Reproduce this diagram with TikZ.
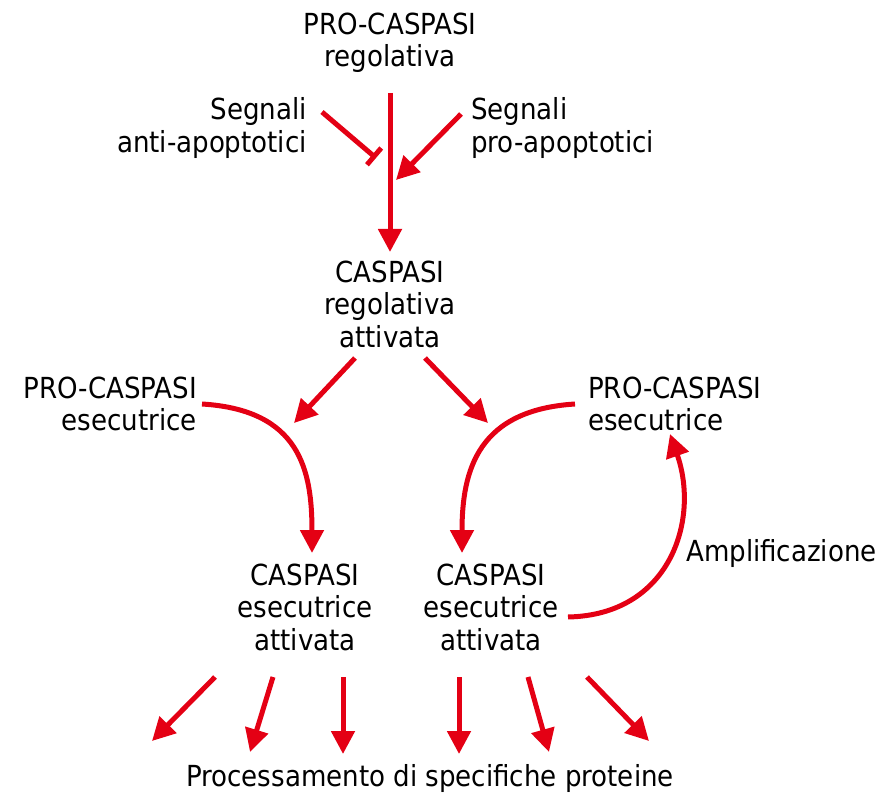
\documentclass[tikz,border=0pt]{standalone}
\usepackage{fontspec}
\setmainfont{DejaVu Sans Condensed}
\usetikzlibrary{arrows.meta}
\definecolor{arrred}{RGB}{228,0,20}
\tikzset{
  txt/.style={inner sep=0pt, font=\fontsize{29}{32.5}\selectfont, align=center, text=black},
  arr/.style={draw=arrred, line width=5pt, -{Triangle[length=23pt,width=23pt]}},
  inh/.style={draw=arrred, line width=5pt, -{Bar[width=22pt,line width=5pt]}},
  plain/.style={draw=arrred, line width=5pt}
}
\begin{document}
\begin{tikzpicture}[x=1pt,y=-1pt]
\useasboundingbox (0,0) rectangle (895,794);
% text nodes
\node[txt] (top) at (390,43) {PRO-CASPASI\\regolativa};
\node[txt,align=right,anchor=east] (anti) at (307,128) {Segnali\\anti-apoptotici};
\node[txt,align=left,anchor=west] (pro) at (471,128) {Segnali\\pro-apoptotici};
\node[txt] (creg) at (390,304) {CASPASI\\regolativa\\attivata};
\node[txt,align=right,anchor=east] (pl) at (197,404) {PRO-CASPASI\\esecutrice};
\node[txt,align=left,anchor=west] (pr) at (588,404) {PRO-CASPASI\\esecutrice};
\node[txt] (el) at (305,607) {CASPASI\\esecutrice\\attivata};
\node[txt] (er) at (491,607) {CASPASI\\esecutrice\\attivata};
\node[txt,anchor=west] (amp) at (686,553) {Amplificazione};
\node[txt] (proc) at (430,778) {Processamento di specifiche proteine};
% connector ends
\coordinate (vs) at (390,93);
\coordinate (ve) at (390,252);
\coordinate (is) at (322,112);
\coordinate (ie) at (376,158);
\coordinate (ps) at (461,114);
\coordinate (pe) at (396,180);
\coordinate (ls) at (355,358);
\coordinate (le) at (294,423);
\coordinate (rs) at (425,358);
\coordinate (re) at (488,423);
\coordinate (cls) at (202,404);
\coordinate (cle) at (312,553);
\coordinate (crs) at (575,404);
\coordinate (cre) at (462,553);
\coordinate (as) at (568,617);
\coordinate (ae) at (670,434);
\coordinate (b1s) at (215,677);
\coordinate (b1e) at (152,741);
\coordinate (b2s) at (273,677);
\coordinate (b2e) at (250,752);
\coordinate (b3s) at (343,677);
\coordinate (b3e) at (343,754);
\coordinate (b4s) at (459,677);
\coordinate (b4e) at (459,754);
\coordinate (b5s) at (528,677);
\coordinate (b5e) at (549,752);
\coordinate (b6s) at (587,677);
\coordinate (b6e) at (649,741);
% connectors
\draw[arr] (vs) -- (ve);
\draw[inh] (is) -- (ie);
\draw[arr] (ps) -- (pe);
\draw[arr] (ls) -- (le);
\draw[arr] (rs) -- (re);
\draw[arr] (cls) .. controls (300,410) and (312,470) .. (cle);
\draw[arr] (crs) .. controls (478,410) and (462,470) .. (cre);
\draw[arr] (as) .. controls (670,615) and (700,520) .. (ae);
\draw[arr] (b1s) -- (b1e);
\draw[arr] (b2s) -- (b2e);
\draw[arr] (b3s) -- (b3e);
\draw[arr] (b4s) -- (b4e);
\draw[arr] (b5s) -- (b5e);
\draw[arr] (b6s) -- (b6e);
\end{tikzpicture}
\end{document}
